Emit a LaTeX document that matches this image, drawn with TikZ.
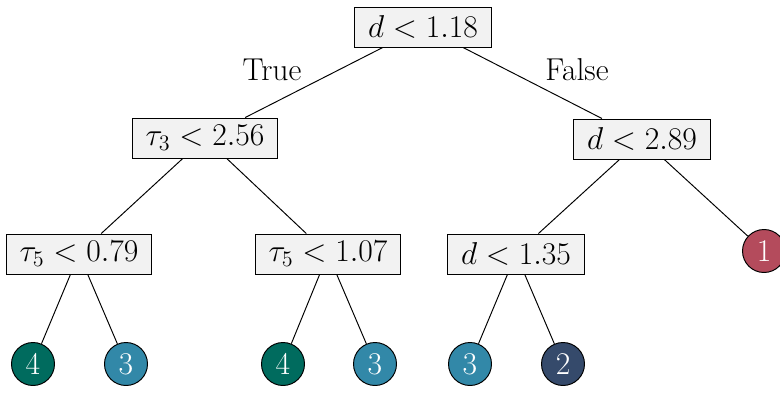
\documentclass[tikz,border=0pt]{standalone}
\usepackage{fix-cm}
\usepackage{xcolor}
\definecolor{leafteal}{RGB}{0,107,94}
\definecolor{leafblue}{RGB}{50,136,168}
\definecolor{leafnavy}{RGB}{53,74,107}
\definecolor{leafred}{RGB}{180,75,92}
\definecolor{boxgray}{RGB}{242,242,242}
\begin{document}
\begin{tikzpicture}[x=0.02cm, y=-0.02cm, line width=0.55pt,
    every node/.style={font=\fontsize{18}{22}\selectfont},
    split/.style={draw, fill=boxgray, minimum height=0.8cm, inner xsep=7.5pt, inner ysep=2pt},
    leaf/.style={circle, draw, text=white, minimum size=0.86cm, inner sep=0pt}]
		  \useasboundingbox (0,0) rectangle (780,392);
		  \node[split] (0) at (423,27) {$d < 1.18$};
		  \node[split] (1) at (205,138) {$\tau_3 < 2.56$};
		  \node[split] (2) at (642,139) {$d < 2.89$};
		  \node[split] (3) at (79,254) {$\tau_5 < 0.79$};
		  \node[split] (4) at (328,254) {$\tau_5 < 1.07$};
		  \node[split] (5) at (516,254) {$d < 1.35$};
		  \node[leaf, fill=leafred] (6) at (764,251) {1};
		  \node[leaf, fill=leafteal] (7) at (33,364) {4};
		  \node[leaf, fill=leafblue] (8) at (126,364) {3};
		  \node[leaf, fill=leafteal] (9) at (283,364) {4};
		  \node[leaf, fill=leafblue] (10) at (375,364) {3};
		  \node[leaf, fill=leafblue] (11) at (470,364) {3};
		  \node[leaf, fill=leafnavy] (12) at (563,364) {2};
		  
		  \node (t) at (272,70) {True};
		  \node (f) at (577,70) {False};
		  
		  \draw (0) -- (1);
		  \draw (0) -- (2);
		  \draw (1) -- (3);
		  \draw (1) -- (4);
		  \draw (2) -- (5);
		  \draw (2) -- (6);
		  \draw (3) -- (7);
		  \draw (3) -- (8);
		  \draw (4) -- (9);
		  \draw (4) -- (10);
		  \draw (5) -- (11);
		  \draw (5) -- (12);
		\end{tikzpicture}
\end{document}
